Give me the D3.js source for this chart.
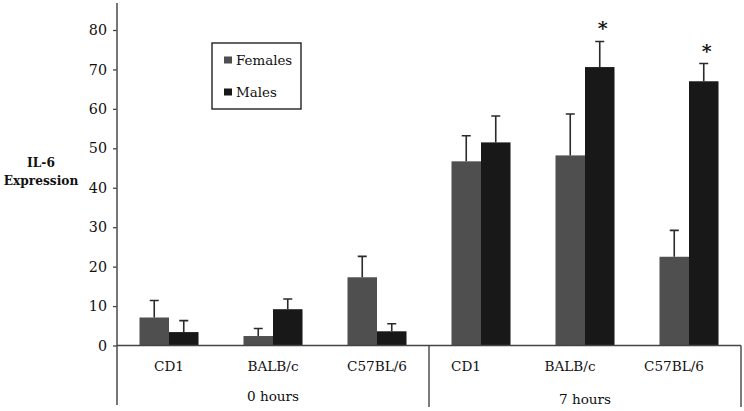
<!DOCTYPE html>
<html><head><meta charset="utf-8">
<script src="https://cdn.jsdelivr.net/npm/d3@7"></script>
<style>body{margin:0;background:#fff}svg{display:block}svg text{font-family:"DejaVu Serif",serif !important;fill:#111}</style>
</head><body><svg id="c" width="744" height="411"></svg>
<script>
const categories = ["CD1","BALB/c","C57BL/6","CD1","BALB/c","C57BL/6"];
const timeGroups = ["0 hours","7 hours"];
const series = ["Females","Males"];
const females = [7.1, 2.4, 17.3, 46.7, 48.2, 22.5];
const femalesErr = [4.3, 1.9, 5.3, 6.5, 10.5, 6.7];
const males = [3.4, 9.2, 3.6, 51.5, 70.6, 67.0];
const malesErr = [2.9, 2.6, 1.9, 6.7, 6.5, 4.5];
const malesSig = ["", "", "", "", "*", "*"];
const yTicks = [0,10,20,30,40,50,60,70,80];

const svg = d3.select("#c");
const colors = {Females:"#4f4f4f", Males:"#181818"};
const x0 = 117, x1 = 741, yBase = 345.5;
const y = d3.scaleLinear().domain([0,80]).range([yBase,30]);
const x = d3.scaleBand().domain(d3.range(categories.length)).range([x0,x1]).padding(0);
const bw = 29.5;
const xs = d3.scaleBand().domain(series).range([0, bw*2]);
const off = (x.bandwidth() - bw*2)/2;

// bars
const data = categories.map((c,i)=>({i, vals:[
  {s:"Females", v:females[i], e:femalesErr[i], sig:""},
  {s:"Males", v:males[i], e:malesErr[i], sig:malesSig[i]}]}));
const g = svg.append("g");
const grp = g.selectAll("g.grp").data(data).join("g").attr("transform",d=>`translate(${x(d.i)+off},0)`);
grp.selectAll("rect").data(d=>d.vals).join("rect")
  .attr("x",d=>xs(d.s)).attr("width",xs.bandwidth())
  .attr("y",d=>y(d.v)).attr("height",d=>yBase-y(d.v))
  .attr("fill",d=>colors[d.s]);
// error bars
grp.selectAll("path.err").data(d=>d.vals).join("path").attr("class","err")
  .attr("d",d=>{const cx=xs(d.s)+xs.bandwidth()/2, t=y(d.v+d.e);
    return `M${cx},${y(d.v)}V${t}M${cx-4.5},${t}H${cx+4.5}`;})
  .attr("stroke","#2a2a2a").attr("stroke-width",1.6).attr("fill","none");
grp.selectAll("text.sig").data(d=>d.vals.filter(v=>v.sig)).join("text").attr("class","sig")
  .attr("x",d=>xs(d.s)+xs.bandwidth()/2+3).attr("y",d=>y(d.v+d.e)-6)
  .attr("text-anchor","middle").attr("font-size",19).attr("font-weight","bold").text(d=>d.sig);

// y axis
const yAxis = d3.axisLeft(y).tickValues(yTicks).tickSize(4).tickPadding(6);
const ya = svg.append("g").attr("transform",`translate(${x0},0)`).call(yAxis);
ya.attr("font-family",null);
ya.select(".domain").remove();
ya.selectAll("line").attr("stroke","#444").attr("stroke-width",1.3);
ya.selectAll("text").attr("font-size",14.3).attr("fill","#111");
svg.append("line").attr("x1",x0).attr("x2",x0).attr("y1",3).attr("y2",405).attr("stroke","#555").attr("stroke-width",1.6);

// x axis baseline & group dividers
svg.append("line").attr("x1",x0).attr("x2",x1).attr("y1",yBase).attr("y2",yBase).attr("stroke","#444").attr("stroke-width",1.6);
[x0 + x.bandwidth()*3, x1].forEach(xx=>{
  svg.append("line").attr("x1",xx).attr("x2",xx).attr("y1",yBase).attr("y2",407).attr("stroke","#444").attr("stroke-width",1.4);
});
// category labels
svg.append("g").selectAll("text").data(categories).join("text")
  .attr("x",(d,i)=>x(i)+x.bandwidth()/2 + (i>=3?-15:0)).attr("y",371)
  .attr("text-anchor","middle").attr("font-size",13.6).text(d=>d);
svg.append("g").selectAll("text").data(timeGroups).join("text")
  .attr("x",(d,i)=>x(i*3)+x.bandwidth()*1.5).attr("y",(d,i)=>i?404:401)
  .attr("text-anchor","middle").attr("font-size",13.6).text(d=>d);

// y label
svg.append("text").attr("x",41).attr("y",167).attr("text-anchor","middle").attr("font-size",12.2).attr("font-weight","bold").text("IL-6");
svg.append("text").attr("x",41).attr("y",185).attr("text-anchor","middle").attr("font-size",12.2).attr("font-weight","bold").text("Expression");

// legend
const lg = svg.append("g");
lg.append("rect").attr("x",212).attr("y",43).attr("width",89).attr("height",66).attr("fill","#fff").attr("stroke","#222").attr("stroke-width",1.4);
series.forEach((s,i)=>{
  const yy = i? 92 : 60;
  lg.append("rect").attr("x",224).attr("y",yy-3.5).attr("width",8).attr("height",7).attr("fill",colors[s]);
  lg.append("text").attr("x",236).attr("y",yy+5).attr("font-size",13.4).text(s);
});
</script></body></html>
